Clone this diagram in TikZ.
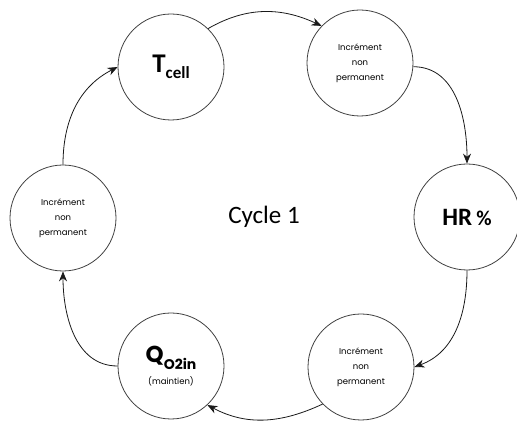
\documentclass[tikz,border=0pt]{standalone}
\usepackage{fontspec}
\setmainfont{Carlito}
\newfontfamily\geofont{Poppins}
\usetikzlibrary{arrows.meta}
\tikzstyle{state} = [circle, draw=black!75, line width=0.8pt, minimum size=106pt, inner sep=0pt, align=center]
\tikzstyle{incr} = [state, font=\geofont\fontsize{8.5}{15}\selectfont]
\tikzstyle{arrow} = [line width=0.8pt, -{Stealth[length=10pt,width=8pt]}, draw=black!90]

\begin{document}
\begin{tikzpicture}[x=1pt, y=1pt]
    \useasboundingbox (0,0) rectangle (517,423);
    \node (tcell) [state, font=\bfseries\fontsize{27}{27}\selectfont] at (171,356) {T\raisebox{-0.22em}{\fontsize{17}{17}\selectfont cell}};
    \node (incA) [incr] at (360,360) {Incrément\\non\\permanent};
    \node (hr) [state, font=\bfseries\fontsize{25}{25}\selectfont] at (467,206) {HR\,\fontsize{21}{21}\selectfont\%};
    \node (incB) [incr] at (361,56) {Incrément\\non\\permanent};
    \node (qo2) [state, font=\geofont\fontsize{8.5}{15}\selectfont] at (171,57) {\raisebox{-8pt}{\shortstack{{\bfseries\fontsize{23}{23}\selectfont Q\raisebox{-0.3em}{\fontsize{14}{14}\selectfont O2in}}\\[4pt](maintien)}}};
    \node (incC) [incr] at (63,205) {Incrément\\non\\permanent};
    \node (cycle) [font=\fontsize{25}{25}\selectfont] at (264,206) {Cycle 1};

    \draw [arrow] (tcell.46) to[out=30,in=155] (incA.136);
    \draw [arrow] (incA.-4) to[out=0,in=90] (hr.north);
    \draw [arrow] (hr.south) to[out=-90,in=20] (incB.east);
    \draw [arrow] (incB.224) to[out=205,in=-28] (qo2.-47);
    \draw [arrow] (qo2.west) to[out=180,in=-90] (incC.south);
    \draw [arrow] (incC.north) to[out=90,in=207] (tcell.west);
\end{tikzpicture}
\end{document}
